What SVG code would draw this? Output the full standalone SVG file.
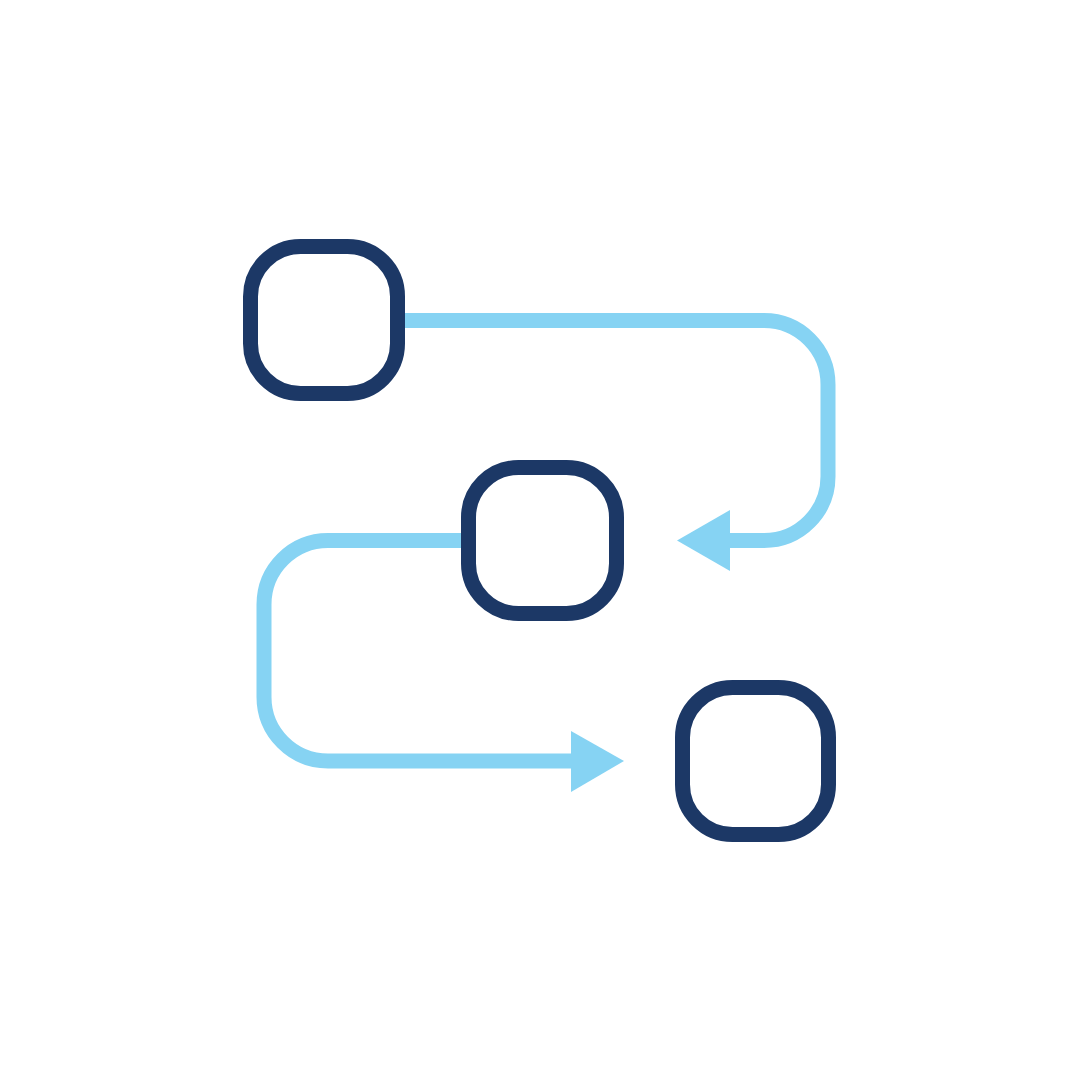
<svg xmlns="http://www.w3.org/2000/svg" width="1081" height="1081" viewBox="0 0 1081 1081">
<style>
.node{fill:none;stroke:#1c3866;stroke-width:15}
.conn{fill:none;stroke:#86d3f3;stroke-width:15}
.head{fill:#86d3f3}
</style>
<rect width="1081" height="1081" fill="#ffffff"/>
<g id="connectors">
<path class="conn" d="M405,320.5 H764 A64,64 0 0 1 828,384.5 V476.5 A64,64 0 0 1 764,540.5 H728"/>
<polygon class="head" points="730,510 677,540.5 730,571"/>
<path class="conn" d="M461,540.5 H328 A64,64 0 0 0 264,604.5 V697 A64,64 0 0 0 328,761 H573"/>
<polygon class="head" points="571,731 624,761 571,792"/>
</g>
<g id="node1"><rect class="node" x="250.5" y="246.5" width="147" height="147" rx="50" ry="50"/></g>
<g id="node2"><rect class="node" x="468.5" y="467.5" width="148" height="146" rx="50" ry="50"/></g>
<g id="node3"><rect class="node" x="682.5" y="687.5" width="146" height="147" rx="50" ry="50"/></g>
</svg>
